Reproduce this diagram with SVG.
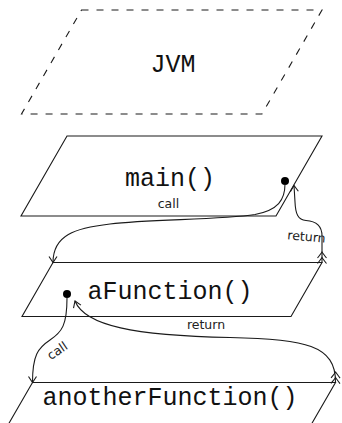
<svg xmlns="http://www.w3.org/2000/svg" width="342" height="423" viewBox="0 0 342 423">
  <style>
    .frame { fill: none; stroke: #1a1a1a; stroke-width: 1.1; }
    .dashed { stroke-dasharray: 7 8; }
    .code { font-family: "Liberation Mono", "DejaVu Sans Mono", monospace; font-size: 25px; fill: #111; text-anchor: middle; }
    .label { font-family: "DejaVu Sans", "Liberation Sans", sans-serif; font-size: 12.5px; fill: #222; text-anchor: middle; }
    .flow { fill: none; stroke: #1a1a1a; stroke-width: 1.1; }
    .dot { fill: #000; }
  </style>
  <defs>
    <!-- open barbed head at the end of a path -->
    <marker id="barb" markerUnits="userSpaceOnUse" viewBox="-8 -6 10 12" refX="0" refY="0" markerWidth="10" markerHeight="12" orient="auto" overflow="visible">
      <path d="M-6,-4 Q-1.5,-1 0,0 Q-1.5,1 -6,4" fill="none" stroke="#1a1a1a" stroke-width="1.1"/>
    </marker>
    <!-- double barb at the start of a path, pointing along it -->
    <marker id="barb2" markerUnits="userSpaceOnUse" viewBox="-2 -6 16 12" refX="0" refY="0" markerWidth="16" markerHeight="12" orient="auto" overflow="visible">
      <path d="M4.5,-4.5 Q9,-1 10.5,0 Q9,1 4.5,4.5 M-1,-4.5 Q3.5,-1 5,0 Q3.5,1 -1,4.5" fill="none" stroke="#1a1a1a" stroke-width="1.1"/>
    </marker>
  </defs>

  <g id="jvm">
    <polygon class="frame dashed" points="81.5,10 322,10 262,114 21.5,114"/>
    <text class="code" x="173" y="72">JVM</text>
  </g>

  <g id="main">
    <polygon class="frame" points="67,136 322,136 276,216 21,216"/>
    <text class="code" x="170" y="186">main()</text>
    <circle class="dot" cx="285" cy="181" r="4"/>
  </g>

  <g id="aFunction">
    <polygon class="frame" points="53,262.5 322,262.5 291,316.5 22,316.5"/>
    <text class="code" x="170" y="298.5">aFunction()</text>
    <circle class="dot" cx="67" cy="294" r="4"/>
  </g>

  <g id="anotherFunction">
    <polygon class="frame" points="32.5,382.5 335.5,382.5 300,444 -3,444"/>
    <text class="code" x="170" y="405">anotherFunction()</text>
  </g>

  <g id="connectors">
    <!-- main() calls aFunction() -->
    <path class="flow" marker-end="url(#barb)" d="M285,184 C285,200 278,210 255,214.5 C220,220 150,219 110,224 C75,228 53,235 53,262.5"/>
    <text class="label" x="168.5" y="208">call</text>
    <!-- aFunction() returns to main() -->
    <path class="flow" marker-start="url(#barb2)" marker-end="url(#barb)" d="M322,262.5 L322,236 C322,224 314,221 306,220.5 C298,220 295.5,214 295,202 L294,185.5"/>
    <text class="label" x="306.5" y="241" transform="rotate(5 306.5 237)">return</text>
    <!-- aFunction() calls anotherFunction() -->
    <path class="flow" marker-end="url(#barb)" d="M67,298 C67,325 62,332 50,340 C38,348 32.5,355 32.5,382.5"/>
    <text class="label" x="57.5" y="355" transform="rotate(-34 57.5 351)">call</text>
    <!-- anotherFunction() returns to aFunction() -->
    <path class="flow" marker-start="url(#barb2)" marker-end="url(#barb)" d="M335.5,382.5 C336,345 305,339 230,337.5 C135,335.5 85,326 75,301"/>
    <text class="label" x="206" y="329">return</text>
  </g>
</svg>
